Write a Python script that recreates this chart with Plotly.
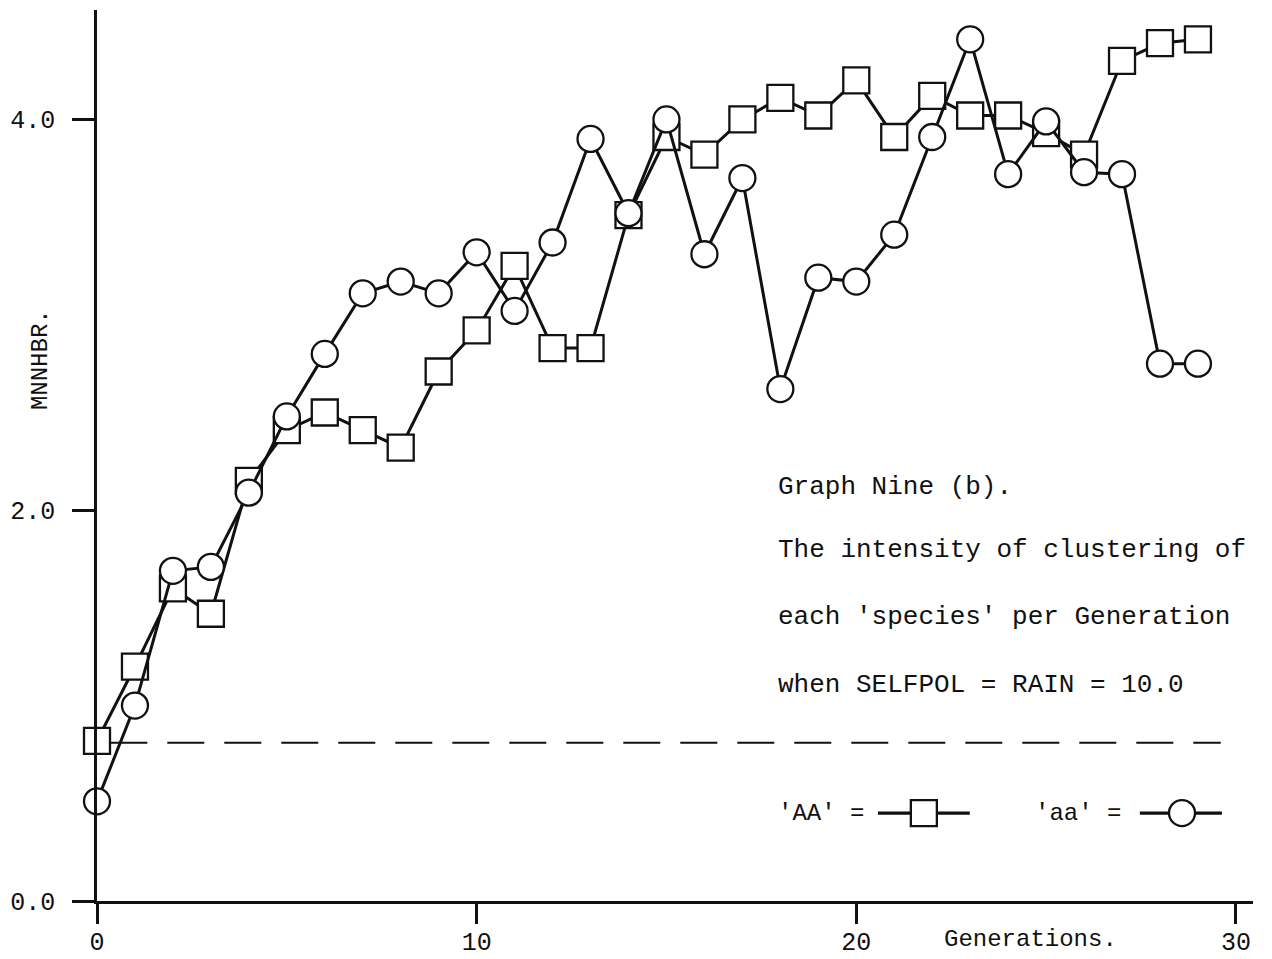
import plotly.graph_objects as go

# ---------------- data ----------------
generations = list(range(30))
aa_upper = [0.82, 1.20, 1.60, 1.47, 2.15, 2.41, 2.50, 2.41, 2.32, 2.71,
            2.92, 3.25, 2.83, 2.83, 3.51, 3.91, 3.82, 4.00, 4.11, 4.02,
            4.20, 3.91, 4.12, 4.02, 4.02, 3.93, 3.82, 4.30, 4.39, 4.41]   # 'AA' squares
aa_lower = [0.51, 1.00, 1.69, 1.71, 2.09, 2.48, 2.80, 3.11, 3.17, 3.11,
            3.32, 3.02, 3.37, 3.90, 3.52, 4.00, 3.31, 3.70, 2.62, 3.19,
            3.17, 3.41, 3.91, 4.41, 3.72, 3.99, 3.73, 3.72, 2.75, 2.75]   # 'aa' circles
reference_level = 0.81
reference_span = [0.35, 29.6]
x_tick_vals = [0, 10, 20, 30]
x_tick_text = ["0", "10", "20", "30"]
y_tick_vals = [0, 2, 4]
y_tick_text = ["0.0", "2.0", "4.0"]
caption_lines = ["Graph Nine (b).",
                 "The intensity of clustering of",
                 "each 'species' per Generation",
                 "when SELFPOL = RAIN = 10.0"]

FONT = "Liberation Mono, Courier New, monospace"
INK = "#111111"

fig = go.Figure()

marker_common = dict(size=26, color="white", line=dict(color=INK, width=2.3))

fig.add_trace(go.Scatter(
    x=generations, y=aa_upper, mode="lines+markers", name="'AA'",
    line=dict(color=INK, width=3),
    marker=dict(symbol="square", **marker_common),
    cliponaxis=False, showlegend=False))

fig.add_trace(go.Scatter(
    x=generations, y=aa_lower, mode="lines+markers", name="'aa'",
    line=dict(color=INK, width=3),
    marker=dict(symbol="circle", **marker_common),
    cliponaxis=False, showlegend=False))

# dashed reference level
fig.add_shape(type="line", xref="x", yref="y",
              x0=reference_span[0], x1=reference_span[1],
              y0=reference_level, y1=reference_level,
              line=dict(color=INK, width=2, dash="37px,20px"), layer="below")

# ---------------- legend key (drawn like the original) ----------------
key_y = 0.45
key_sq = dict(text_x=17.88, line=[20.57, 22.99], mark=21.78)
key_ci = dict(text_x=24.65, line=[27.47, 29.63], mark=28.58)
for key, sym, label in [(key_sq, "square", "'AA' ="), (key_ci, "circle", "'aa' =")]:
    fig.add_trace(go.Scatter(
        x=[key["line"][0], key["mark"], key["line"][1]], y=[key_y] * 3,
        mode="lines", line=dict(color=INK, width=3.2), hoverinfo="skip",
        cliponaxis=False, showlegend=False))
    fig.add_trace(go.Scatter(
        x=[key["mark"]], y=[key_y], mode="markers",
        marker=dict(symbol=sym, **marker_common), hoverinfo="skip",
        cliponaxis=False, showlegend=False))
    fig.add_annotation(x=key["text_x"], y=key_y, xref="x", yref="y",
                       text=label, showarrow=False, xanchor="left", yanchor="middle",
                       font=dict(family=FONT, size=24, color=INK))

# caption block
caption_y = [2.118, 1.795, 1.453, 1.105]
for txt, yy in zip(caption_lines, caption_y):
    fig.add_annotation(x=17.88, y=yy, xref="x", yref="y", text=txt,
                       showarrow=False, xanchor="left", yanchor="middle",
                       font=dict(family=FONT, size=26, color=INK))

# axis titles
fig.add_annotation(x=24.6, y=-0.043, xref="x", yref="paper", text="Generations.",
                   showarrow=False, xanchor="center", yanchor="middle",
                   font=dict(family=FONT, size=24, color=INK))
fig.add_annotation(x=-0.049, y=2.77, xref="paper", yref="y", text="MNNHBR.",
                   textangle=-90, showarrow=False, xanchor="center", yanchor="middle",
                   font=dict(family=FONT, size=24, color=INK))

fig.update_layout(
    width=1272, height=959,
    margin=dict(l=97, r=19, t=10, b=58, autoexpand=False),
    paper_bgcolor="white", plot_bgcolor="white",
    font=dict(family=FONT, size=24, color=INK),
    xaxis=dict(range=[0, 30.45], tickvals=x_tick_vals, ticktext=x_tick_text,
               showline=True, linecolor=INK, linewidth=2.6, automargin=False,
               ticks="outside", ticklen=20, tickwidth=2.6, tickcolor=INK,
               showgrid=False, zeroline=False, ticklabelstandoff=-4,
               tickfont=dict(family=FONT, size=25, color=INK)),
    yaxis=dict(range=[0, 4.56], tickvals=y_tick_vals, ticktext=y_tick_text,
               showline=True, linecolor=INK, linewidth=2.6, automargin=False,
               ticks="outside", ticklen=22, tickwidth=2.6, tickcolor=INK,
               showgrid=False, zeroline=False, ticklabelstandoff=12,
               tickfont=dict(family=FONT, size=25, color=INK)),
)

fig.write_html("out.html")
